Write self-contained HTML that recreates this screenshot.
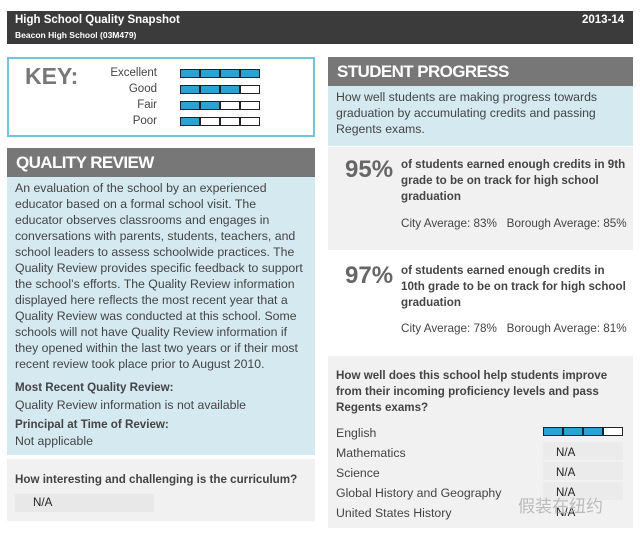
<!DOCTYPE html>
<html><head><meta charset="utf-8"><style>
*{margin:0;padding:0;box-sizing:border-box}
body{width:640px;height:536px;background:#fff;position:relative;overflow:hidden;font-family:"Liberation Sans",sans-serif;color:#444}
.a{position:absolute;white-space:nowrap}
.l{line-height:16px;font-size:11.6px}
.q{font-size:12.3px}
.b{font-weight:bold}
.bar{position:absolute;display:flex;border:1.5px solid #222;height:9px;width:80px;background:#222;gap:1.5px}
.bar span{flex:1;background:#fff}
.bar span.f{background:#2aa3d0}
.hd{position:absolute;background:#777;color:#fff;font-weight:bold;font-size:17px;letter-spacing:-0.6px;padding-left:9px;line-height:29px}
</style></head><body>
<div class="a" style="left:7px;top:11px;width:626px;height:33px;background:#3b3b3b"></div>
<div class="a b" style="left:15px;top:14px;color:#fff;font-size:11.5px">High School Quality Snapshot</div>
<div class="a b" style="left:15px;top:30px;color:#fff;font-size:8.5px">Beacon High School (03M479)</div>
<div class="a b" style="left:582px;top:14px;color:#fff;font-size:11.5px">2013-14</div>

<div class="a" style="left:7px;top:57px;width:308px;height:80px;border:2px solid #6cc6dc"></div>
<div class="a b" style="left:25px;top:63px;font-size:23px;color:#777">KEY:</div>
<div class="a" style="left:80px;top:65px;width:77px;text-align:right;font-size:11.5px;line-height:16px">Excellent<br>Good<br>Fair<br>Poor</div>
<div class="bar" style="left:180px;top:69px"><span class="f"></span><span class="f"></span><span class="f"></span><span class="f"></span></div>
<div class="bar" style="left:180px;top:85px"><span class="f"></span><span class="f"></span><span class="f"></span><span></span></div>
<div class="bar" style="left:180px;top:101px"><span class="f"></span><span class="f"></span><span></span><span></span></div>
<div class="bar" style="left:180px;top:117px"><span class="f"></span><span></span><span></span><span></span></div>

<div class="hd" style="left:7px;top:148px;width:308px;height:29px">QUALITY REVIEW</div>
<div class="a" style="left:7px;top:177px;width:308px;height:278px;background:#d5e9f0"></div>
<div class="a l q" style="left:15px;top:180px">An evaluation of the school by an experienced<br>educator based on a formal school visit. The<br>educator observes classrooms and engages in<br>conversations with parents, students, teachers, and<br>school leaders to assess schoolwide practices. The<br>Quality Review provides specific feedback to support<br>the school’s efforts. The Quality Review information<br>displayed here reflects the most recent year that a<br>Quality Review was conducted at this school. Some<br>schools will not have Quality Review information if<br>they opened within the last two years or if their most<br>recent review took place prior to August 2010.</div>
<div class="a l b" style="left:15px;top:380px">Most Recent Quality Review:</div>
<div class="a l q" style="left:15px;top:397px">Quality Review information is not available</div>
<div class="a l b" style="left:15px;top:417px">Principal at Time of Review:</div>
<div class="a l q" style="left:15px;top:433px">Not applicable</div>
<div class="a" style="left:7px;top:459px;width:308px;height:62px;background:#f1f1f1"></div>
<div class="a l b" style="left:15px;top:472px">How interesting and challenging is the curriculum?</div>
<div class="a" style="left:15px;top:494px;width:139px;height:18px;background:#e8e8e8"></div>
<div class="a l" style="left:33px;top:495px;color:#222">N/A</div>

<div class="hd" style="left:328px;top:57px;width:305px;height:29px">STUDENT PROGRESS</div>
<div class="a" style="left:328px;top:86px;width:305px;height:60px;background:#d5e9f0"></div>
<div class="a l q" style="left:336px;top:89px">How well students are making progress towards<br>graduation by accumulating credits and passing<br>Regents exams.</div>
<div class="a" style="left:328px;top:147px;width:305px;height:103px;background:#f1f1f1"></div>
<div class="a b" style="left:345px;top:156px;font-size:24px;color:#666">95%</div>
<div class="a l b" style="left:401px;top:157px">of students earned enough credits in 9th<br>grade to be on track for high school<br>graduation</div>
<div class="a l" style="left:401px;top:216px;font-size:11.7px">City Average: 83%&nbsp;&nbsp; Borough Average: 85%</div>
<div class="a b" style="left:345px;top:262px;font-size:24px;color:#666">97%</div>
<div class="a l b" style="left:401px;top:263px">of students earned enough credits in<br>10th grade to be on track for high school<br>graduation</div>
<div class="a l" style="left:401px;top:321px;font-size:11.7px">City Average: 78%&nbsp;&nbsp; Borough Average: 81%</div>
<div class="a" style="left:328px;top:356px;width:305px;height:172px;background:#f1f1f1"></div>
<div class="a l b" style="left:336px;top:368px">How well does this school help students improve<br>from their incoming proficiency levels and pass<br>Regents exams?</div>
<div class="a q" style="left:336px;top:423px;line-height:20px">English<br>Mathematics<br>Science<br>Global History and Geography<br>United States History</div>
<div class="bar" style="left:543px;top:427px"><span class="f"></span><span class="f"></span><span class="f"></span><span></span></div>
<div class="a" style="left:543px;top:442px;width:80px;height:18px;background:#ebebeb"></div>
<div class="a" style="left:543px;top:462px;width:80px;height:18px;background:#ebebeb"></div>
<div class="a" style="left:543px;top:482px;width:80px;height:18px;background:#ebebeb"></div>
<div class="a" style="left:556px;top:443px;line-height:20px;font-size:11.6px;color:#222">N/A<br>N/A<br>N/A<br>N/A</div>
<div class="a" style="left:518px;top:492px;font-size:17px;color:#bbb;font-family:'Liberation Sans','Noto Sans CJK SC',sans-serif">假装在纽约</div>
</body></html>
